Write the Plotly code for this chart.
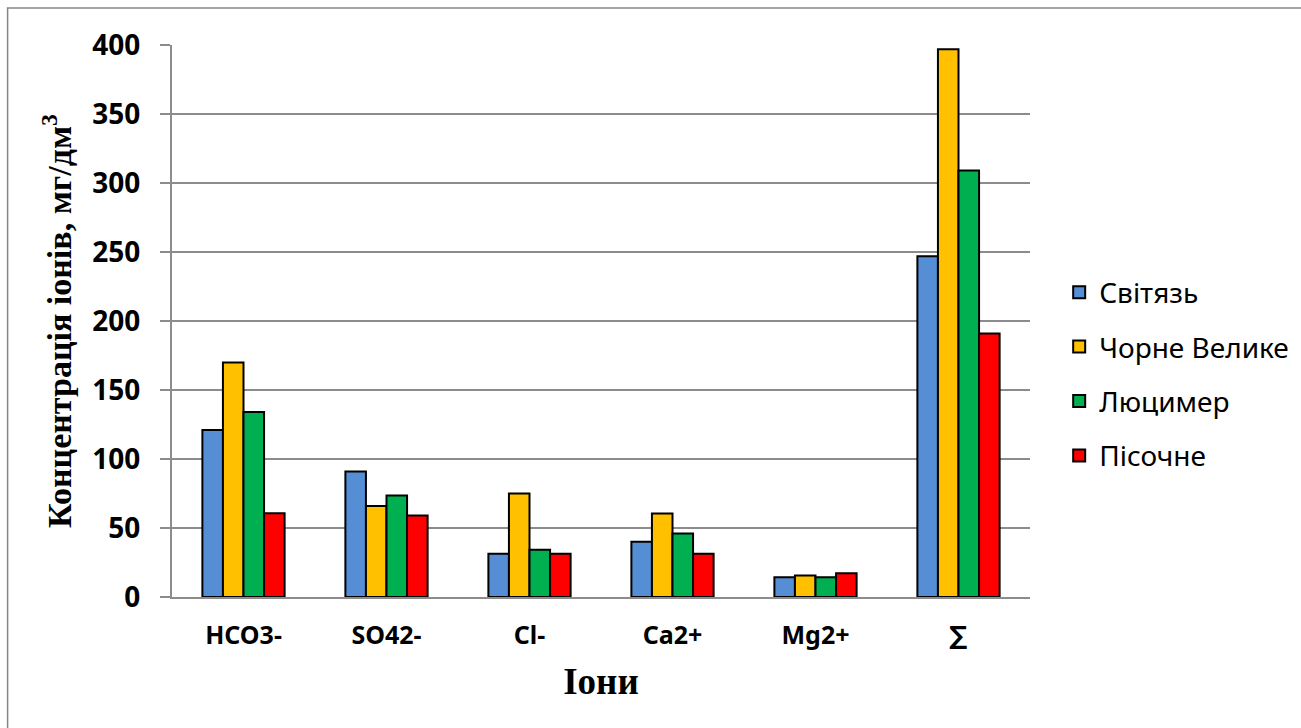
import plotly.graph_objects as go

categories = ["HCO3-", "SO42-", "Cl-", "Ca2+", "Mg2+", "∑"]
series_names = ["Світязь", "Чорне Велике", "Люцимер", "Пісочне"]
svitiaz = [121, 91, 31.4, 40, 14.3, 247]
chorne = [170, 66, 75, 60.5, 15.5, 397]
liutsymer = [134, 73.5, 34.3, 46, 14.3, 309]
pisochne = [60.6, 59, 31.4, 31.4, 17.2, 191]
colors = ["#558ED5", "#FFC000", "#00B050", "#FF0000"]
y_ticks = [0, 50, 100, 150, 200, 250, 300, 350, 400]

values = [svitiaz, chorne, liutsymer, pisochne]

fig = go.Figure()
for i, (name, vals, col) in enumerate(zip(series_names, values, colors)):
    fig.add_trace(go.Bar(
        x=categories, y=vals, name=name, legendgroup=f"g{i}",
        marker=dict(color=col, line=dict(color="black", width=2)),
    ))

grid_col = "#8C8C8C"
fig.update_layout(
    width=1301, height=728,
    margin=dict(l=172, r=271, t=45, b=131, autoexpand=False),
    paper_bgcolor="white", plot_bgcolor="white",
    barmode="group", bargap=0.425, bargroupgap=0,
    showlegend=True,
    legend=dict(
        x=1.034, xanchor="left", y=0.404, yanchor="middle",
        font=dict(family="Noto Sans", size=28, color="black"),
        tracegroupgap=15, bgcolor="rgba(0,0,0,0)",
    ),
    xaxis=dict(
        showline=True, linecolor=grid_col, linewidth=2,
        ticks="", showgrid=False,
        tickfont=dict(family="Noto Sans, DejaVu Sans", size=25, color="black", weight="bold"),
        ticklabelstandoff=15,
        title=dict(text="Іони", font=dict(family="Liberation Serif", size=37, color="black", weight="bold"), standoff=18),
    ),
    yaxis=dict(
        range=[0, 400], tickvals=y_ticks, ticktext=[str(v) for v in y_ticks],
        showline=True, linecolor=grid_col, linewidth=2,
        showgrid=True, gridcolor=grid_col, gridwidth=2,
        ticks="outside", ticklen=10, tickcolor=grid_col, tickwidth=2,
        tickfont=dict(family="Noto Sans", size=28, color="black", weight="bold"),
        ticklabelstandoff=14,
        zeroline=False,
        title=dict(text="Концентрація іонів, мг/дм<sup>3</sup>",
                   font=dict(family="Liberation Serif", size=34, color="black", weight="bold"), standoff=10),
    ),
    shapes=[dict(type="rect", xref="paper", yref="paper",
                 x0=-0.1916, x1=1.6, y0=-0.5, y1=1.067,
                 line=dict(color="#868686", width=1.5), fillcolor="rgba(0,0,0,0)", layer="below")],
)

fig.write_html("out.html")
